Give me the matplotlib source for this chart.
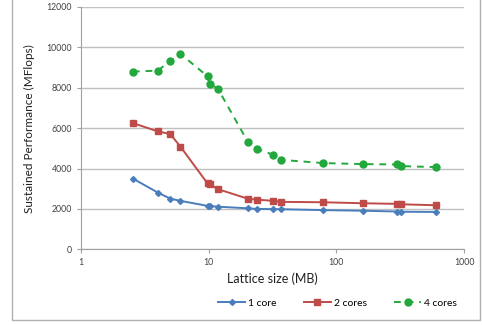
import matplotlib
matplotlib.use("Agg")
import matplotlib.pyplot as plt
from matplotlib.patches import Rectangle

plt.rcParams['font.family'] = ['Lato', 'DejaVu Sans']

lattice_mb = [2.55, 4.0, 5.0, 6.0, 9.8, 10.2, 11.8, 20.4, 23.8, 32.0, 37.0, 79.0, 162.0, 300.0, 323.0, 608.0]
one_core = [3500, 2810, 2510, 2400, 2150, 2140, 2110, 2030, 2000, 1990, 1985, 1940, 1910, 1870, 1860, 1850]
two_cores = [6250, 5840, 5710, 5090, 3260, 3220, 2980, 2500, 2460, 2400, 2350, 2330, 2280, 2250, 2230, 2180]
four_cores = [8800, 8850, 9330, 9680, 8570, 8190, 7960, 5290, 4980, 4680, 4430, 4270, 4220, 4200, 4120, 4070]
y_ticks = [0, 2000, 4000, 6000, 8000, 10000, 12000]
x_ticks = [1, 10, 100, 1000]

fig = plt.figure(figsize=(4.82, 3.25), dpi=100)
fig.patches.append(Rectangle((12/482, 5/325), 468/482, 330/325, transform=fig.transFigure,
                             fill=False, edgecolor='#b0b0b0', linewidth=1.0))
ax = fig.add_axes([81/482, (325-249.3)/325, (464-81)/482, (249.3-7)/325])

c_blue = '#4A7EBB'
c_red = '#BE4B48'
c_green = '#22A83C'
ax.plot(lattice_mb, one_core, color=c_blue, marker='D', markersize=3, linewidth=1.4, label='1 core')
ax.plot(lattice_mb, two_cores, color=c_red, marker='s', markersize=4, linewidth=1.4, label='2 cores')
ax.plot(lattice_mb, four_cores, color=c_green, marker='o', markersize=5, linewidth=1.4,
        linestyle=(0, (3.5, 3)), label='4 cores')

ax.set_xscale('log')
ax.set_xlim(1, 1000)
ax.set_ylim(0, 12000)
ax.set_yticks(y_ticks)
ax.set_xticks(x_ticks)
ax.set_xticklabels([str(v) for v in x_ticks])
ax.xaxis.set_minor_locator(matplotlib.ticker.NullLocator())
ax.grid(axis='y', color='#c0c0c0', linewidth=1.0)
ax.set_axisbelow(True)
for s in ['top', 'right']:
    ax.spines[s].set_visible(False)
for s in ['left', 'bottom']:
    ax.spines[s].set_color('#a0a0a0')
ax.tick_params(axis='both', colors='#a0a0a0', labelcolor='#404040', labelsize=6.3, length=3)
ax.set_xlabel('Lattice size (MB)', fontsize=9, color='#202020', labelpad=4)
ax.set_ylabel('Sustained Performance (MFlops)', fontsize=8.5, color='#202020', labelpad=8)

ax.legend(loc='center', bbox_to_anchor=(0.67, -0.222), ncol=3, frameon=False,
          fontsize=7.5, handlelength=2.6, columnspacing=2.6, handletextpad=0.3)

fig.savefig('out.png', dpi=100)
